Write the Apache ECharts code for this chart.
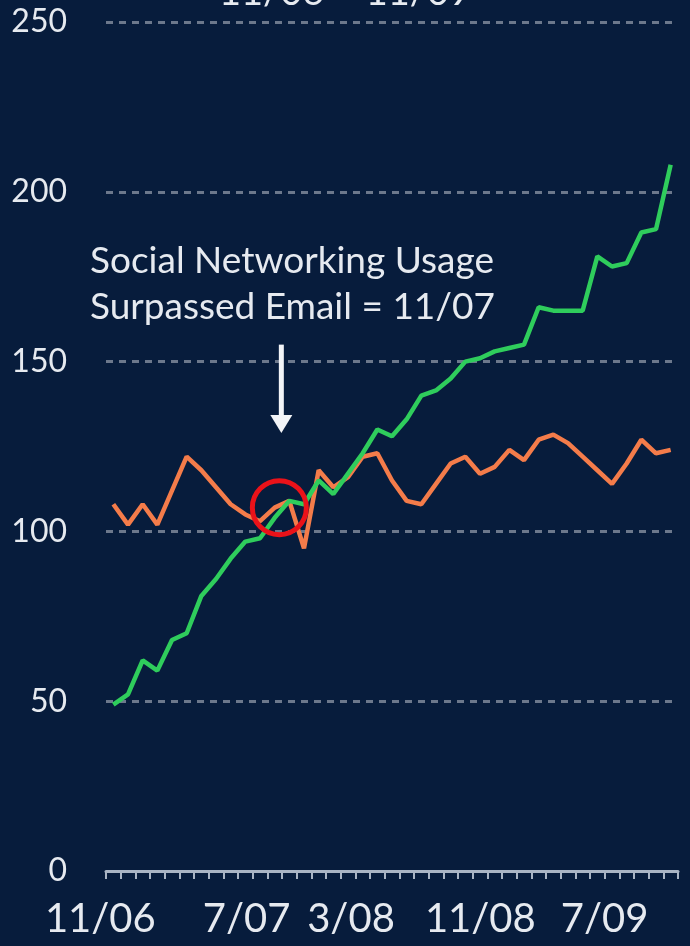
<!DOCTYPE html>
<html>
<head>
<meta charset="utf-8">
<script src="https://cdn.jsdelivr.net/npm/echarts@6/dist/echarts.min.js"></script>
<style>
  html, body { margin: 0; padding: 0; background: #071c3c; }
  #chart { width: 690px; height: 946px; }
</style>
</head>
<body>
<div id="chart"></div>
<script>
// monthly points, 11/06 .. 1/10
const months = [
  '11/06', '12/06', '1/07', '2/07', '3/07', '4/07', '5/07', '6/07', '7/07', '8/07',
  '9/07', '10/07', '11/07', '12/07', '1/08', '2/08', '3/08', '4/08', '5/08', '6/08',
  '7/08', '8/08', '9/08', '10/08', '11/08', '12/08', '1/09', '2/09', '3/09', '4/09',
  '5/09', '6/09', '7/09', '8/09', '9/09', '10/09', '11/09', '12/09', '1/10'
];

const socialNetworking = [
  49, 52, 62, 59, 68, 70, 81, 86, 92, 97,
  98, 104, 109, 108, 115, 111, 117, 123, 130, 128,
  133, 140, 141.5, 145, 150, 151, 153, 154, 155, 166,
  165, 165, 165, 181, 178, 179, 188, 189, 208
];

const email = [
  108, 102, 108, 102, 112, 122, 118, 113, 108, 105,
  103, 107, 109, 95, 118, 113, 116, 122, 123, 115,
  109, 108, 114, 120, 122, 117, 119, 124, 121, 127,
  128.5, 126, 122, 118, 114, 120, 127, 123, 124
];

const yTicks = { min: 0, max: 250, step: 50 };
const crossIndex = 12;   // 11/07
const crossValue = 107;
const noteText = 'Social Networking Usage\nSurpassed Email = 11/07';

// the original's month labels sit a little off their ticks
const labelNudge = { '11/06': -13, '7/07': 16, '3/08': 3, '11/08': 15, '7/09': 22 };

const textColor = '#e6eaf0';
const chart = echarts.init(document.getElementById('chart'), null, { renderer: 'canvas' });

const rich = {};
Object.keys(labelNudge).forEach((m, i) => {
  const s = labelNudge[m];
  rich['m' + i] = {
    color: textColor, fontFamily: 'Lato', fontSize: 40,
    padding: s > 0 ? [0, 0, 0, 2 * s] : [0, -2 * s, 0, 0]
  };
});

chart.setOption({
  backgroundColor: '#071c3c',
  animation: false,
  title: {
    text: '11/06 \u2013 11/09',
    left: 'center',
    top: -31,
    textStyle: { color: textColor, fontFamily: 'Lato', fontSize: 38, fontWeight: 'normal' }
  },
  grid: { left: 106, right: 12, top: 22, bottom: 75, containLabel: false },
  xAxis: {
    type: 'category',
    data: months,
    boundaryGap: true,
    axisLine: { lineStyle: { color: '#a9b4c4', width: 3 } },
    axisTick: { show: true, interval: 0, length: 8, lineStyle: { color: '#a9b4c4', width: 2 } },
    axisLabel: {
      interval: 7,
      margin: 28,
      color: textColor,
      fontFamily: 'Lato',
      fontSize: 40,
      formatter: (v) => {
        const k = Object.keys(labelNudge).indexOf(v);
        return k >= 0 ? '{m' + k + '|' + v + '}' : v;
      },
      rich: rich
    },
    splitLine: { show: false }
  },
  yAxis: {
    type: 'value',
    min: yTicks.min,
    max: yTicks.max,
    interval: yTicks.step,
    axisLine: { show: false },
    axisTick: { show: false },
    axisLabel: {
      margin: 39,
      color: textColor,
      fontFamily: 'Lato',
      fontSize: 32
    },
    splitLine: { lineStyle: { color: '#6c788c', width: 3, type: [7, 6] } }
  },
  series: [
    {
      name: 'Email',
      type: 'line',
      data: email,
      symbol: 'none',
      lineStyle: { color: '#f47c4a', width: 4.5 },
      z: 2
    },
    {
      name: 'Social Networking',
      type: 'line',
      data: socialNetworking,
      symbol: 'none',
      lineStyle: { color: '#2fcd5c', width: 4.5 },
      z: 3,
      markPoint: {
        silent: true,
        symbol: 'circle',
        symbolSize: 54,
        symbolOffset: [-10, 0],
        itemStyle: { color: 'rgba(0,0,0,0)', borderColor: '#ea1219', borderWidth: 5 },
        label: { show: false },
        data: [{ coord: [crossIndex, crossValue] }]
      }
    }
  ]
});

// arrow + note, anchored on the crossover month
const tip = chart.convertToPixel({ gridIndex: 0 }, [crossIndex, 129]);
const tail = chart.convertToPixel({ gridIndex: 0 }, [crossIndex, 155]);
const ax = tip[0] - 8;
chart.setOption({
  graphic: [
    {
      type: 'line',
      shape: { x1: ax, y1: tail[1], x2: ax, y2: tip[1] - 14 },
      style: { stroke: '#f2f4f7', lineWidth: 5 }
    },
    {
      type: 'polygon',
      shape: { points: [[ax - 11, tip[1] - 18], [ax + 11, tip[1] - 18], [ax, tip[1]]] },
      style: { fill: '#f2f4f7' }
    },
    {
      type: 'text',
      left: 90,
      top: 238,
      style: {
        text: noteText,
        fill: textColor,
        font: '37px Lato',
        lineHeight: 46
      }
    }
  ]
});
</script>
</body>
</html>
